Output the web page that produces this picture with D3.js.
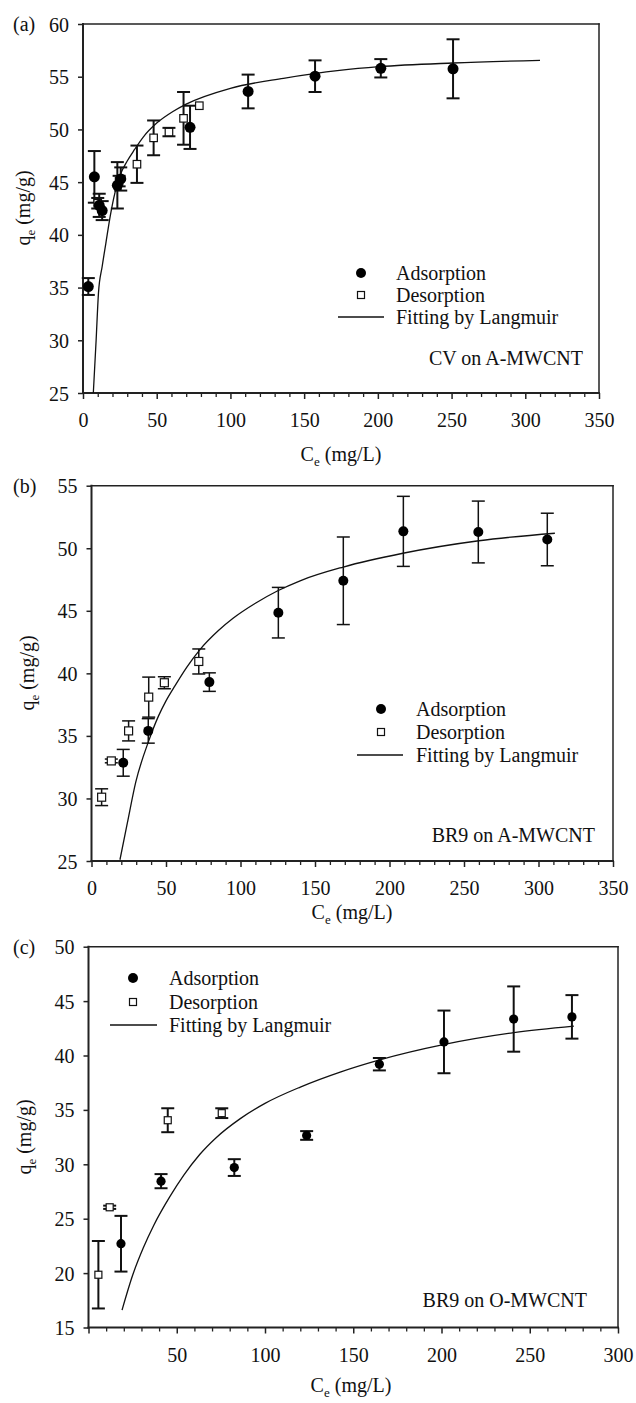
<!DOCTYPE html>
<html>
<head>
<meta charset="utf-8">
<script src="https://cdn.jsdelivr.net/npm/d3@7"></script>
<style>
  body { margin: 0; background: #fff; }
  svg text { font-family: "Liberation Serif", "Times New Roman", serif; fill: #111; }
</style>
</head>
<body>
<svg id="chart"></svg>
<script>
// each point: [Ce (mg/L), qe (mg/g), error]
const aAdsorption = [
	[3.6, 35.1, 0.8], [7.7, 45.5, 2.45], [11, 42.8, 1.1], [13, 42.3, 0.9],
	[23.3, 44.7, 2.2], [25.6, 45.3, 1.1], [72.6, 50.2, 2.05], [112, 53.6, 1.6],
	[157.4, 55.05, 1.5], [202, 55.8, 0.87], [251, 55.75, 2.8]
];
const aDesorption = [
	[10, 43.0, 0.5], [24.5, 45.1, 0.5], [36.6, 46.7, 1.77], [47.9, 49.2, 1.65],
	[58.3, 49.75, 0.4], [68.2, 51.05, 2.5], [78.9, 52.25, 0]
];
const aFit = [
	[7.0, 25], [8.9, 30], [10.5, 34.5], [13, 37], [15.5, 39.2], [18.5, 41.8],
	[21.7, 44.0], [25, 45.6], [30, 47.0], [35, 48.1], [41, 49.3], [50, 50.6],
	[61, 51.7], [70, 52.4], [100, 53.9], [136, 54.85], [174, 55.6], [201, 55.95],
	[251, 56.3], [310, 56.55]
];

const bAdsorption = [
	[21.3, 32.85, 1.07], [38.1, 35.4, 0.98], [79.1, 39.3, 0.74], [125.4, 44.85, 2.02],
	[169, 47.4, 3.5], [209.3, 51.35, 2.8], [259.6, 51.3, 2.47], [305.9, 50.7, 2.1]
];
const bDesorption = [
	[6.8, 30.1, 0.67], [13.3, 33.0, 0.15], [24.9, 35.4, 0.8], [38.4, 38.1, 1.6],
	[48.9, 39.25, 0.48], [72, 40.95, 1.0]
];
const bFit = [
	[19.1, 25.1], [24, 28.0], [29.7, 31.3], [38.1, 34.5], [45, 36.6], [50, 37.8],
	[56, 39.0], [64, 40.5], [72.8, 41.9], [85, 43.4], [95, 44.4], [110, 45.6],
	[125, 46.6], [140, 47.4], [169, 48.5], [209, 49.6], [260, 50.6], [311, 51.2]
];

const cAdsorption = [
	[18.4, 22.7, 2.56], [41.1, 28.45, 0.65], [82.6, 29.7, 0.77], [123.6, 32.65, 0.4],
	[164.8, 39.2, 0.57], [201.4, 41.25, 2.88], [240.9, 43.35, 3.0], [273.9, 43.55, 2.0]
];
const cDesorption = [
	[5.6, 19.85, 3.1], [12.0, 26.05, 0.15], [44.9, 34.05, 1.1], [75.5, 34.7, 0.45]
];
const cFit = [
	[19, 16.6], [25, 19.8], [31, 22.3], [37, 24.4], [46, 27.0], [54, 29.0],
	[63, 30.9], [72, 32.4], [86, 34.2], [100, 35.6], [120, 37.1], [143, 38.5],
	[165, 39.6], [201, 41.0], [241, 42.1], [275, 42.7]
];

const aXTicks = [0, 50, 100, 150, 200, 250, 300, 350];
const aYTicks = [25, 30, 35, 40, 45, 50, 55, 60];
const bXTicks = [0, 50, 100, 150, 200, 250, 300, 350];
const bYTicks = [25, 30, 35, 40, 45, 50, 55];
const cXTicks = [50, 100, 150, 200, 250, 300];
const cYTicks = [15, 20, 25, 30, 35, 40, 45, 50];

const legendLabels = ["Adsorption", "Desorption", "Fitting by Langmuir"];

const panels = [
	{
		tag: "(a)", caption: "CV on A-MWCNT",
		ads: aAdsorption, des: aDesorption, fit: aFit,
		xDomain: [0, 350], yDomain: [25, 60], xTicks: aXTicks, yTicks: aYTicks,
		box: { left: 83, right: 599, top: 24, bottom: 393 },
		r: 5.5, sq: 7.5, errWidth: 2,
		yLabel: [23, 208], xLabel: [341, 461],
		captionPos: [583, 358],
		legend: { mx: 361, tx: 396, rows: [273, 295, 317], line: [338, 384] }
	},
	{
		tag: "(b)", caption: "BR9 on A-MWCNT",
		ads: bAdsorption, des: bDesorption, fit: bFit,
		xDomain: [0, 350], yDomain: [25, 55], xTicks: bXTicks, yTicks: bYTicks,
		box: { left: 91.5, right: 613, top: 485.7, bottom: 861 },
		r: 5, sq: 8, errWidth: 1.5,
		yLabel: [27, 673], xLabel: [352, 919],
		captionPos: [595, 835],
		legend: { mx: 381, tx: 416, rows: [709, 732, 755], line: [357, 403] }
	},
	{
		tag: "(c)", caption: "BR9 on O-MWCNT",
		ads: cAdsorption, des: cDesorption, fit: cFit,
		xDomain: [0, 300], yDomain: [15, 50], xTicks: cXTicks, yTicks: cYTicks,
		box: { left: 88.5, right: 618, top: 946.7, bottom: 1327.5 },
		r: 4.6, sq: 7, errWidth: 2,
		yLabel: [24, 1137], xLabel: [351, 1392],
		captionPos: [587, 1300],
		legend: { mx: 133, tx: 169, rows: [978, 1002, 1025], line: [110, 157] }
	}
];

const svg = d3.select("#chart").attr("width", 636).attr("height", 1403);

const subLabel = (sel, main, sub, rest) => {
	sel.append("tspan").text(main);
	sel.append("tspan").attr("font-size", 13).attr("dy", 5).text(sub);
	sel.append("tspan").attr("dy", -5).text(rest);
};

const drawPanel = p => {
	const { left, right, top, bottom } = p.box;
	const x = d3.scaleLinear().domain(p.xDomain).range([left, right]);
	const y = d3.scaleLinear().domain(p.yDomain).range([bottom, top]);
	const g = svg.append("g");

	// minor x ticks every 10
	const minors = d3.range(p.xDomain[0], p.xDomain[1] + 1, 10).filter(v => v % 50 !== 0);
	g.append("g")
		.attr("transform", `translate(0,${bottom})`)
		.call(d3.axisBottom(x).tickValues(minors).tickSize(4).tickFormat(""))
		.call(a => a.select(".domain").remove())
		.call(a => a.selectAll("line").attr("stroke", "#222").attr("stroke-width", 1.3));

	const majors = d3.range(p.xDomain[0], p.xDomain[1] + 1, 50);
	g.append("g")
		.attr("transform", `translate(0,${bottom})`)
		.call(d3.axisBottom(x).tickValues(majors).tickSize(6)
			.tickFormat(d => (p.xTicks.includes(d) ? d : "")))
		.call(a => a.select(".domain").remove())
		.call(a => a.selectAll("line").attr("stroke", "#222").attr("stroke-width", 1.5))
		.call(a => a.selectAll("text").attr("y", 27).attr("dy", "0.35em")
			.attr("font-size", 20).attr("fill", "#111"));

	g.append("g")
		.attr("transform", `translate(${left},0)`)
		.call(d3.axisLeft(y).tickValues(p.yTicks).tickSize(5))
		.call(a => a.select(".domain").remove())
		.call(a => a.selectAll("line").attr("stroke", "#222").attr("stroke-width", 1.5))
		.call(a => a.selectAll("text").attr("x", -14).attr("dy", "0.35em")
			.attr("font-size", 20).attr("fill", "#111"));

	// frame
	const frame = [
		[left, top, right, top, 1.5], [right, top, right, bottom, 1.5],
		[left, top, left, bottom, 2], [left, bottom, right, bottom, 2]
	];
	g.selectAll(".frame").data(frame).join("line")
		.attr("x1", d => d[0]).attr("y1", d => d[1])
		.attr("x2", d => d[2]).attr("y2", d => d[3])
		.attr("stroke", "#222").attr("stroke-width", d => d[4])
		.attr("stroke-linecap", "square");

	// error bars
	const pts = p.ads.concat(p.des).filter(d => d[2] > 0);
	const eb = g.append("g").attr("stroke", "#111").attr("stroke-width", p.errWidth);
	eb.selectAll(".v").data(pts).join("line")
		.attr("x1", d => x(d[0])).attr("x2", d => x(d[0]))
		.attr("y1", d => y(d[1] - d[2])).attr("y2", d => y(d[1] + d[2]));
	const caps = pts.flatMap(d => [[d[0], d[1] - d[2]], [d[0], d[1] + d[2]]]);
	eb.selectAll(".c").data(caps).join("line")
		.attr("x1", d => x(d[0]) - 6.5).attr("x2", d => x(d[0]) + 6.5)
		.attr("y1", d => y(d[1])).attr("y2", d => y(d[1]));

	// Langmuir fit
	g.append("path")
		.datum(p.fit)
		.attr("fill", "none")
		.attr("stroke", "#111")
		.attr("stroke-width", 1.3)
		.attr("d", d3.line().x(d => x(d[0])).y(d => y(d[1])).curve(d3.curveMonotoneX));

	g.selectAll(".des").data(p.des).join("rect")
		.attr("x", d => x(d[0]) - p.sq / 2).attr("y", d => y(d[1]) - p.sq / 2)
		.attr("width", p.sq).attr("height", p.sq)
		.attr("fill", "#fff").attr("stroke", "#111").attr("stroke-width", 1.2);

	g.selectAll(".ads").data(p.ads).join("circle")
		.attr("cx", d => x(d[0])).attr("cy", d => y(d[1]))
		.attr("r", p.r).attr("fill", "#000");

	// legend
	const lg = p.legend;
	g.append("circle").attr("cx", lg.mx).attr("cy", lg.rows[0]).attr("r", 5).attr("fill", "#000");
	g.append("rect")
		.attr("x", lg.mx - 3.5).attr("y", lg.rows[1] - 3.5).attr("width", 7).attr("height", 7)
		.attr("fill", "#fff").attr("stroke", "#111").attr("stroke-width", 1.2);
	g.append("line")
		.attr("x1", lg.line[0]).attr("x2", lg.line[1])
		.attr("y1", lg.rows[2]).attr("y2", lg.rows[2])
		.attr("stroke", "#111").attr("stroke-width", 1.3);
	g.selectAll(".lt").data(legendLabels).join("text")
		.attr("x", lg.tx).attr("y", (d, i) => lg.rows[i])
		.attr("dy", "0.35em").attr("font-size", 20)
		.text(d => d);

	g.append("text")
		.attr("x", p.captionPos[0]).attr("y", p.captionPos[1])
		.attr("dy", "0.35em").attr("text-anchor", "end").attr("font-size", 20)
		.text(p.caption);

	g.append("text")
		.attr("x", 13).attr("y", top).attr("dy", "0.35em").attr("font-size", 20)
		.text(p.tag);

	g.append("text")
		.attr("text-anchor", "middle").attr("font-size", 20)
		.attr("transform", `translate(${p.yLabel[0]},${p.yLabel[1]}) rotate(-90)`)
		.attr("dy", "0.35em")
		.call(t => subLabel(t, "q", "e", " (mg/g)"));

	g.append("text")
		.attr("text-anchor", "middle").attr("font-size", 20)
		.attr("x", p.xLabel[0]).attr("y", p.xLabel[1])
		.call(t => subLabel(t, "C", "e", " (mg/L)"));
};

panels.forEach(drawPanel);
</script>
</body>
</html>
